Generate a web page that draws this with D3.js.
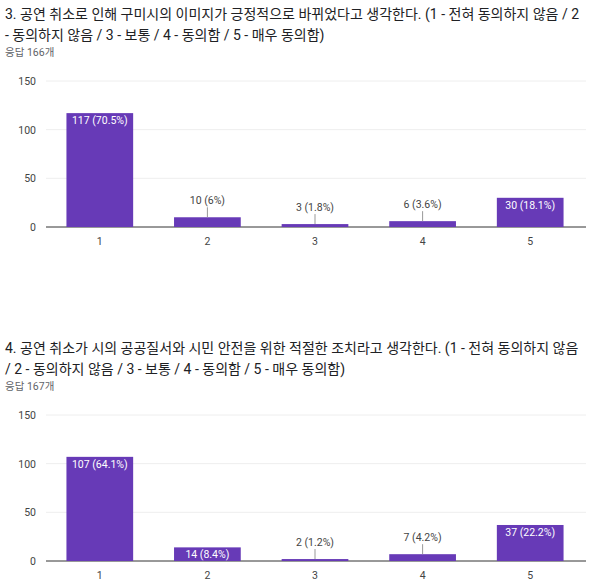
<!DOCTYPE html>
<html><head><meta charset="utf-8">
<script src="https://cdn.jsdelivr.net/npm/d3@7"></script>
<style>body{margin:0;background:#fff}text{font-family:Roboto,"Noto Sans CJK KR",sans-serif}</style>
</head><body><svg id="c" width="600" height="586"></svg>
<script>
const categories = ["1","2","3","4","5"];
const values1 = [117,10,3,6,30];
const labels1 = ["117 (70.5%)","10 (6%)","3 (1.8%)","6 (3.6%)","30 (18.1%)"];
const values2 = [107,14,2,7,37];
const labels2 = ["107 (64.1%)","14 (8.4%)","2 (1.2%)","7 (4.2%)","37 (22.2%)"];
const yTicks = [0,50,100,150];
const title1 = ["3. 공연 취소로 인해 구미시의 이미지가 긍정적으로 바뀌었다고 생각한다. (1 - 전혀 동의하지 않음 / 2","- 동의하지 않음 / 3 - 보통 / 4 - 동의함 / 5 - 매우 동의함)"];
const title2 = ["4. 공연 취소가 시의 공공질서와 시민 안전을 위한 적절한 조치라고 생각한다. (1 - 전혀 동의하지 않음","/ 2 - 동의하지 않음 / 3 - 보통 / 4 - 동의함 / 5 - 매우 동의함)"];
const resp1 = "응답 166개", resp2 = "응답 167개";

const svg = d3.select("#c");
function chart(top, title, resp, vals, labs){
  const g = svg.append("g");
  title.forEach((t,i)=>g.append("text").attr("x",5).attr("y",top+19+i*21).attr("font-size",14).attr("fill","#202124").text(t));
  g.append("text").attr("x",5).attr("y",top+56).attr("font-size",10.5).attr("fill","#5f6368").text(resp);
  const y0 = top+227, y1 = top+81;
  const x = d3.scaleBand().domain(categories).range([46,584]).paddingInner(0.38).paddingOuter(0.19);
  const y = d3.scaleLinear().domain([0,150]).range([y0,y1]);
  yTicks.forEach(t=>{
    g.append("line").attr("x1",46).attr("x2",586).attr("y1",y(t)).attr("y2",y(t)).attr("stroke",t===0?"#333":"#eeeeee");
    g.append("text").attr("x",36).attr("y",y(t)+4).attr("text-anchor","end").attr("font-size",10.5).attr("fill","#444").text(t);
  });
  categories.forEach((c,i)=>{
    const v = vals[i], bx = x(c), bw = x.bandwidth(), cx = bx+bw/2;
    g.append("rect").attr("x",bx).attr("y",y(v)).attr("width",bw).attr("height",y0-y(v)).attr("fill","#673ab7");
    if (y0-y(v) > 12){
      g.append("text").attr("x",cx).attr("y",y(v)+11).attr("text-anchor","middle").attr("font-size",10.5).attr("fill","#fff").text(labs[i]);
    } else {
      g.append("line").attr("x1",cx).attr("x2",cx).attr("y1",y(v)-10).attr("y2",y(v)).attr("stroke","#999");
      g.append("text").attr("x",cx).attr("y",y(v)-13).attr("text-anchor","middle").attr("font-size",10.5).attr("fill","#444").text(labs[i]);
    }
    g.append("text").attr("x",cx).attr("y",y0+18).attr("text-anchor","middle").attr("font-size",10.5).attr("fill","#444").text(c);
  });
}
chart(0,title1,resp1,values1,labels1);
chart(334,title2,resp2,values2,labels2);
</script></body></html>
